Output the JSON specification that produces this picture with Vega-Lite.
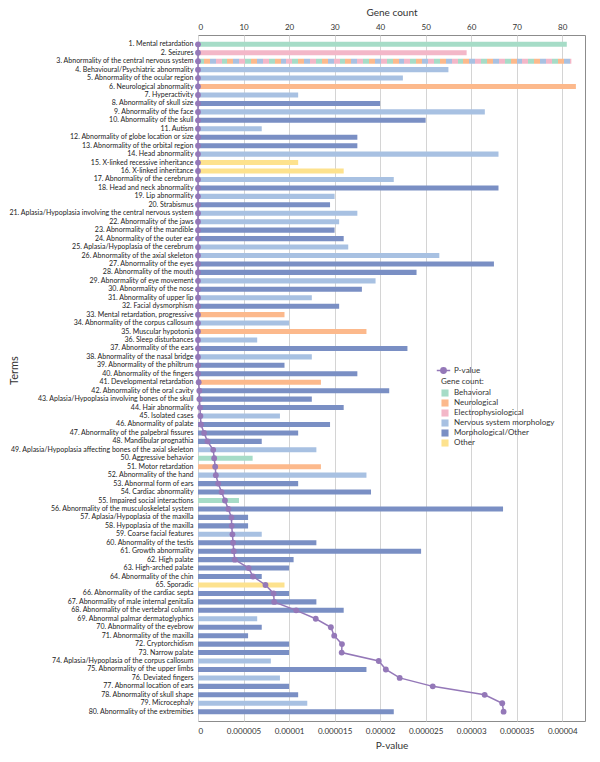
{
  "$schema": "https://vega.github.io/schema/vega-lite/v6.json",
  "width": 387,
  "height": 686,
  "autosize": {"type": "none"},
  "padding": {"left": 198, "top": 35, "right": 15, "bottom": 41},
  "config": {
    "font": "Lato",
    "view": {"stroke": "#8c8c8c", "strokeWidth": 1},
    "axis": {"labelColor": "#333333", "titleColor": "#333333", "titleFontWeight": "normal"},
    "legend": {"labelColor": "#333333", "titleColor": "#333333"}
  },
  "data": {
    "values": [
      {"rank": 1, "term": "1. Mental retardation", "category": "Behavioral", "genes": 81, "p": 1e-40},
      {"rank": 2, "term": "2. Seizures", "category": "Electrophysiological", "genes": 59, "p": 2e-38},
      {"rank": 3, "term": "3. Abnormality of the central nervous system", "category": "Multiple", "genes": 82, "p": 5e-36},
      {"rank": 4, "term": "4. Behavioural/Psychiatric abnormality", "category": "Nervous system morphology", "genes": 55, "p": 1e-33},
      {"rank": 5, "term": "5. Abnormality of the ocular region", "category": "Nervous system morphology", "genes": 45, "p": 3e-31},
      {"rank": 6, "term": "6. Neurological abnormality", "category": "Neurological", "genes": 83, "p": 8e-30},
      {"rank": 7, "term": "7. Hyperactivity", "category": "Nervous system morphology", "genes": 22, "p": 2e-28},
      {"rank": 8, "term": "8. Abnormality of skull size", "category": "Morphological/Other", "genes": 40, "p": 6e-27},
      {"rank": 9, "term": "9. Abnormality of the face", "category": "Nervous system morphology", "genes": 63, "p": 1e-25},
      {"rank": 10, "term": "10. Abnormality of the skull", "category": "Morphological/Other", "genes": 50, "p": 4e-24},
      {"rank": 11, "term": "11. Autism", "category": "Nervous system morphology", "genes": 14, "p": 9e-23},
      {"rank": 12, "term": "12. Abnormality of globe location or size", "category": "Morphological/Other", "genes": 35, "p": 2e-21},
      {"rank": 13, "term": "13. Abnormality of the orbital region", "category": "Morphological/Other", "genes": 35, "p": 5e-21},
      {"rank": 14, "term": "14. Head abnormality", "category": "Nervous system morphology", "genes": 66, "p": 1e-20},
      {"rank": 15, "term": "15. X-linked recessive inheritance", "category": "Other", "genes": 22, "p": 4e-20},
      {"rank": 16, "term": "16. X-linked inheritance", "category": "Other", "genes": 32, "p": 9e-20},
      {"rank": 17, "term": "17. Abnormality of the cerebrum", "category": "Nervous system morphology", "genes": 43, "p": 3e-19},
      {"rank": 18, "term": "18. Head and neck abnormality", "category": "Morphological/Other", "genes": 66, "p": 8e-19},
      {"rank": 19, "term": "19. Lip abnormality", "category": "Nervous system morphology", "genes": 30, "p": 2e-18},
      {"rank": 20, "term": "20. Strabismus", "category": "Morphological/Other", "genes": 29, "p": 6e-18},
      {"rank": 21, "term": "21. Aplasia/Hypoplasia involving the central nervous system", "category": "Nervous system morphology", "genes": 35, "p": 1e-17},
      {"rank": 22, "term": "22. Abnormality of the jaws", "category": "Nervous system morphology", "genes": 31, "p": 4e-17},
      {"rank": 23, "term": "23. Abnormality of the mandible", "category": "Morphological/Other", "genes": 30, "p": 9e-17},
      {"rank": 24, "term": "24. Abnormality of the outer ear", "category": "Morphological/Other", "genes": 32, "p": 3e-16},
      {"rank": 25, "term": "25. Aplasia/Hypoplasia of the cerebrum", "category": "Nervous system morphology", "genes": 33, "p": 7e-16},
      {"rank": 26, "term": "26. Abnormality of the axial skeleton", "category": "Nervous system morphology", "genes": 53, "p": 2e-15},
      {"rank": 27, "term": "27. Abnormality of the eyes", "category": "Morphological/Other", "genes": 65, "p": 5e-15},
      {"rank": 28, "term": "28. Abnormality of the mouth", "category": "Morphological/Other", "genes": 48, "p": 1e-14},
      {"rank": 29, "term": "29. Abnormality of eye movement", "category": "Nervous system morphology", "genes": 39, "p": 3e-14},
      {"rank": 30, "term": "30. Abnormality of the nose", "category": "Morphological/Other", "genes": 36, "p": 8e-14},
      {"rank": 31, "term": "31. Abnormality of upper lip", "category": "Nervous system morphology", "genes": 25, "p": 2e-13},
      {"rank": 32, "term": "32. Facial dysmorphism", "category": "Morphological/Other", "genes": 31, "p": 6e-13},
      {"rank": 33, "term": "33. Mental retardation, progressive", "category": "Neurological", "genes": 19, "p": 1e-12},
      {"rank": 34, "term": "34. Abnormality of the corpus callosum", "category": "Nervous system morphology", "genes": 20, "p": 4e-12},
      {"rank": 35, "term": "35. Muscular hypotonia", "category": "Neurological", "genes": 37, "p": 1e-11},
      {"rank": 36, "term": "36. Sleep disturbances", "category": "Nervous system morphology", "genes": 13, "p": 3e-11},
      {"rank": 37, "term": "37. Abnormality of the ears", "category": "Morphological/Other", "genes": 46, "p": 9e-11},
      {"rank": 38, "term": "38. Abnormality of the nasal bridge", "category": "Nervous system morphology", "genes": 25, "p": 3e-10},
      {"rank": 39, "term": "39. Abnormality of the philtrum", "category": "Morphological/Other", "genes": 19, "p": 8e-10},
      {"rank": 40, "term": "40. Abnormality of the fingers", "category": "Morphological/Other", "genes": 35, "p": 2e-9},
      {"rank": 41, "term": "41. Developmental retardation", "category": "Neurological", "genes": 27, "p": 7.4e-8},
      {"rank": 42, "term": "42. Abnormality of the oral cavity", "category": "Morphological/Other", "genes": 42, "p": 1.45e-7},
      {"rank": 43, "term": "43. Aplasia/Hypoplasia involving bones of the skull", "category": "Morphological/Other", "genes": 25, "p": 1.5e-7},
      {"rank": 44, "term": "44. Hair abnormality", "category": "Morphological/Other", "genes": 32, "p": 2.2e-7},
      {"rank": 45, "term": "45. Isolated cases", "category": "Nervous system morphology", "genes": 18, "p": 2.6e-7},
      {"rank": 46, "term": "46. Abnormality of palate", "category": "Morphological/Other", "genes": 29, "p": 3.3e-7},
      {"rank": 47, "term": "47. Abnormality of the palpebral fissures", "category": "Morphological/Other", "genes": 22, "p": 6.7e-7},
      {"rank": 48, "term": "48. Mandibular prognathia", "category": "Morphological/Other", "genes": 14, "p": 1.04e-6},
      {"rank": 49, "term": "49. Aplasia/Hypoplasia affecting bones of the axial skeleton", "category": "Nervous system morphology", "genes": 26, "p": 1.67e-6},
      {"rank": 50, "term": "50. Aggressive behavior", "category": "Behavioral", "genes": 12, "p": 1.78e-6},
      {"rank": 51, "term": "51. Motor retardation", "category": "Neurological", "genes": 27, "p": 1.89e-6},
      {"rank": 52, "term": "52. Abnormality of the hand", "category": "Nervous system morphology", "genes": 37, "p": 1.96e-6},
      {"rank": 53, "term": "53. Abnormal form of ears", "category": "Morphological/Other", "genes": 22, "p": 2.22e-6},
      {"rank": 54, "term": "54. Cardiac abnormality", "category": "Morphological/Other", "genes": 38, "p": 2.59e-6},
      {"rank": 55, "term": "55. Impaired social interactions", "category": "Behavioral", "genes": 9, "p": 2.96e-6},
      {"rank": 56, "term": "56. Abnormality of the musculoskeletal system", "category": "Morphological/Other", "genes": 67, "p": 3.33e-6},
      {"rank": 57, "term": "57. Aplasia/Hypoplasia of the maxilla", "category": "Morphological/Other", "genes": 11, "p": 3.67e-6},
      {"rank": 58, "term": "58. Hypoplasia of the maxilla", "category": "Morphological/Other", "genes": 11, "p": 3.7e-6},
      {"rank": 59, "term": "59. Coarse facial features", "category": "Nervous system morphology", "genes": 14, "p": 3.78e-6},
      {"rank": 60, "term": "60. Abnormality of the testis", "category": "Morphological/Other", "genes": 26, "p": 3.85e-6},
      {"rank": 61, "term": "61. Growth abnormality", "category": "Morphological/Other", "genes": 49, "p": 3.93e-6},
      {"rank": 62, "term": "62. High palate", "category": "Morphological/Other", "genes": 21, "p": 4.04e-6},
      {"rank": 63, "term": "63. High-arched palate", "category": "Morphological/Other", "genes": 20, "p": 5.56e-6},
      {"rank": 64, "term": "64. Abnormality of the chin", "category": "Morphological/Other", "genes": 14, "p": 6.04e-6},
      {"rank": 65, "term": "65. Sporadic", "category": "Other", "genes": 19, "p": 7.41e-6},
      {"rank": 66, "term": "66. Abnormality of the cardiac septa", "category": "Morphological/Other", "genes": 20, "p": 8.3e-6},
      {"rank": 67, "term": "67. Abnormality of male internal genitalia", "category": "Morphological/Other", "genes": 26, "p": 8.37e-6},
      {"rank": 68, "term": "68. Abnormality of the vertebral column", "category": "Morphological/Other", "genes": 32, "p": 1.078e-5},
      {"rank": 69, "term": "69. Abnormal palmar dermatoglyphics", "category": "Nervous system morphology", "genes": 13, "p": 1.293e-5},
      {"rank": 70, "term": "70. Abnormality of the eyebrow", "category": "Morphological/Other", "genes": 14, "p": 1.459e-5},
      {"rank": 71, "term": "71. Abnormality of the maxilla", "category": "Morphological/Other", "genes": 11, "p": 1.496e-5},
      {"rank": 72, "term": "72. Cryptorchidism", "category": "Morphological/Other", "genes": 20, "p": 1.581e-5},
      {"rank": 73, "term": "73. Narrow palate", "category": "Morphological/Other", "genes": 20, "p": 1.578e-5},
      {"rank": 74, "term": "74. Aplasia/Hypoplasia of the corpus callosum", "category": "Nervous system morphology", "genes": 16, "p": 1.985e-5},
      {"rank": 75, "term": "75. Abnormality of the upper limbs", "category": "Morphological/Other", "genes": 37, "p": 2.063e-5},
      {"rank": 76, "term": "76. Deviated fingers", "category": "Nervous system morphology", "genes": 18, "p": 2.215e-5},
      {"rank": 77, "term": "77. Abnormal location of ears", "category": "Morphological/Other", "genes": 20, "p": 2.578e-5},
      {"rank": 78, "term": "78. Abnormality of skull shape", "category": "Morphological/Other", "genes": 22, "p": 3.148e-5},
      {"rank": 79, "term": "79. Microcephaly", "category": "Nervous system morphology", "genes": 24, "p": 3.341e-5},
      {"rank": 80, "term": "80. Abnormality of the extremities", "category": "Morphological/Other", "genes": 43, "p": 3.356e-5}
    ]
  },
  "layer": [
    {
      "mark": {"type": "bar"},
      "encoding": {
        "y": {
          "field": "term", "type": "nominal", "sort": null,
          "scale": {"paddingInner": 0.4, "paddingOuter": 0.8},
          "axis": {"title": "Terms", "titleFontSize": 11, "titleX": -184, "titleY": 335, "titleAngle": -90, "titleAlign": "center", "titleBaseline": "middle", "labelFontSize": 7, "labelColor": "#222222", "labelLimit": 300, "ticks": false, "domain": false, "labelPadding": 5}
        },
        "x": {
          "field": "genes", "type": "quantitative",
          "scale": {"domain": [0, 85], "nice": false},
          "axis": {"orient": "top", "title": "Gene count", "titleFontSize": 10, "titlePadding": 6, "labelFontSize": 8, "values": [0, 10, 20, 30, 40, 50, 60, 70, 80], "ticks": false, "domain": false, "labelPadding": 4, "gridColor": "#d4d4d4", "gridWidth": 1}
        },
        "color": {
          "condition": {
            "test": "datum.category === 'Multiple'",
            "value": {
              "gradient": "linear", "x1": 0, "y1": 0, "x2": 1, "y2": 0,
              "stops": [
                {"offset": 0, "color": "#a6dcc7"}, {"offset": 0.0158, "color": "#a6dcc7"},
                {"offset": 0.0158, "color": "#fcb98c"}, {"offset": 0.0316, "color": "#fcb98c"},
                {"offset": 0.0316, "color": "#a8c1e2"}, {"offset": 0.0474, "color": "#a8c1e2"},
                {"offset": 0.0474, "color": "#f3b7c8"}, {"offset": 0.0632, "color": "#f3b7c8"},
                {"offset": 0.0632, "color": "#a6dcc7"}, {"offset": 0.079, "color": "#a6dcc7"},
                {"offset": 0.079, "color": "#fcb98c"}, {"offset": 0.0948, "color": "#fcb98c"},
                {"offset": 0.0948, "color": "#a8c1e2"}, {"offset": 0.1106, "color": "#a8c1e2"},
                {"offset": 0.1106, "color": "#f3b7c8"}, {"offset": 0.1264, "color": "#f3b7c8"},
                {"offset": 0.1264, "color": "#a6dcc7"}, {"offset": 0.1422, "color": "#a6dcc7"},
                {"offset": 0.1422, "color": "#fcb98c"}, {"offset": 0.158, "color": "#fcb98c"},
                {"offset": 0.158, "color": "#a8c1e2"}, {"offset": 0.1738, "color": "#a8c1e2"},
                {"offset": 0.1738, "color": "#f3b7c8"}, {"offset": 0.1896, "color": "#f3b7c8"},
                {"offset": 0.1896, "color": "#a6dcc7"}, {"offset": 0.2054, "color": "#a6dcc7"},
                {"offset": 0.2054, "color": "#fcb98c"}, {"offset": 0.2212, "color": "#fcb98c"},
                {"offset": 0.2212, "color": "#a8c1e2"}, {"offset": 0.237, "color": "#a8c1e2"},
                {"offset": 0.237, "color": "#f3b7c8"}, {"offset": 0.2528, "color": "#f3b7c8"},
                {"offset": 0.2528, "color": "#a6dcc7"}, {"offset": 0.2686, "color": "#a6dcc7"},
                {"offset": 0.2686, "color": "#fcb98c"}, {"offset": 0.2844, "color": "#fcb98c"},
                {"offset": 0.2844, "color": "#a8c1e2"}, {"offset": 0.3002, "color": "#a8c1e2"},
                {"offset": 0.3002, "color": "#f3b7c8"}, {"offset": 0.316, "color": "#f3b7c8"},
                {"offset": 0.316, "color": "#a6dcc7"}, {"offset": 0.3318, "color": "#a6dcc7"},
                {"offset": 0.3318, "color": "#fcb98c"}, {"offset": 0.3476, "color": "#fcb98c"},
                {"offset": 0.3476, "color": "#a8c1e2"}, {"offset": 0.3634, "color": "#a8c1e2"},
                {"offset": 0.3634, "color": "#f3b7c8"}, {"offset": 0.3792, "color": "#f3b7c8"},
                {"offset": 0.3792, "color": "#a6dcc7"}, {"offset": 0.395, "color": "#a6dcc7"},
                {"offset": 0.395, "color": "#fcb98c"}, {"offset": 0.4108, "color": "#fcb98c"},
                {"offset": 0.4108, "color": "#a8c1e2"}, {"offset": 0.4266, "color": "#a8c1e2"},
                {"offset": 0.4266, "color": "#f3b7c8"}, {"offset": 0.4424, "color": "#f3b7c8"},
                {"offset": 0.4424, "color": "#a6dcc7"}, {"offset": 0.4582, "color": "#a6dcc7"},
                {"offset": 0.4582, "color": "#fcb98c"}, {"offset": 0.474, "color": "#fcb98c"},
                {"offset": 0.474, "color": "#a8c1e2"}, {"offset": 0.4898, "color": "#a8c1e2"},
                {"offset": 0.4898, "color": "#f3b7c8"}, {"offset": 0.5056, "color": "#f3b7c8"},
                {"offset": 0.5056, "color": "#a6dcc7"}, {"offset": 0.5214, "color": "#a6dcc7"},
                {"offset": 0.5214, "color": "#fcb98c"}, {"offset": 0.5372, "color": "#fcb98c"},
                {"offset": 0.5372, "color": "#a8c1e2"}, {"offset": 0.553, "color": "#a8c1e2"},
                {"offset": 0.553, "color": "#f3b7c8"}, {"offset": 0.5688, "color": "#f3b7c8"},
                {"offset": 0.5688, "color": "#a6dcc7"}, {"offset": 0.5846, "color": "#a6dcc7"},
                {"offset": 0.5846, "color": "#fcb98c"}, {"offset": 0.6004, "color": "#fcb98c"},
                {"offset": 0.6004, "color": "#a8c1e2"}, {"offset": 0.6162, "color": "#a8c1e2"},
                {"offset": 0.6162, "color": "#f3b7c8"}, {"offset": 0.632, "color": "#f3b7c8"},
                {"offset": 0.632, "color": "#a6dcc7"}, {"offset": 0.6478, "color": "#a6dcc7"},
                {"offset": 0.6478, "color": "#fcb98c"}, {"offset": 0.6636, "color": "#fcb98c"},
                {"offset": 0.6636, "color": "#a8c1e2"}, {"offset": 0.6794, "color": "#a8c1e2"},
                {"offset": 0.6794, "color": "#f3b7c8"}, {"offset": 0.6952, "color": "#f3b7c8"},
                {"offset": 0.6952, "color": "#a6dcc7"}, {"offset": 0.711, "color": "#a6dcc7"},
                {"offset": 0.711, "color": "#fcb98c"}, {"offset": 0.7268, "color": "#fcb98c"},
                {"offset": 0.7268, "color": "#a8c1e2"}, {"offset": 0.7426, "color": "#a8c1e2"},
                {"offset": 0.7426, "color": "#f3b7c8"}, {"offset": 0.7584, "color": "#f3b7c8"},
                {"offset": 0.7584, "color": "#a6dcc7"}, {"offset": 0.7742, "color": "#a6dcc7"},
                {"offset": 0.7742, "color": "#fcb98c"}, {"offset": 0.79, "color": "#fcb98c"},
                {"offset": 0.79, "color": "#a8c1e2"}, {"offset": 0.8058, "color": "#a8c1e2"},
                {"offset": 0.8058, "color": "#f3b7c8"}, {"offset": 0.8216, "color": "#f3b7c8"},
                {"offset": 0.8216, "color": "#a6dcc7"}, {"offset": 0.8374, "color": "#a6dcc7"},
                {"offset": 0.8374, "color": "#fcb98c"}, {"offset": 0.8532, "color": "#fcb98c"},
                {"offset": 0.8532, "color": "#a8c1e2"}, {"offset": 0.869, "color": "#a8c1e2"},
                {"offset": 0.869, "color": "#f3b7c8"}, {"offset": 0.8848, "color": "#f3b7c8"},
                {"offset": 0.8848, "color": "#a6dcc7"}, {"offset": 0.9006, "color": "#a6dcc7"},
                {"offset": 0.9006, "color": "#fcb98c"}, {"offset": 0.9164, "color": "#fcb98c"},
                {"offset": 0.9164, "color": "#a8c1e2"}, {"offset": 0.9322, "color": "#a8c1e2"},
                {"offset": 0.9322, "color": "#f3b7c8"}, {"offset": 0.948, "color": "#f3b7c8"},
                {"offset": 0.948, "color": "#a6dcc7"}, {"offset": 0.9638, "color": "#a6dcc7"},
                {"offset": 0.9638, "color": "#fcb98c"}, {"offset": 0.9796, "color": "#fcb98c"},
                {"offset": 0.9796, "color": "#a8c1e2"}, {"offset": 0.9954, "color": "#a8c1e2"},
                {"offset": 0.9954, "color": "#f3b7c8"}, {"offset": 1, "color": "#f3b7c8"}
              ]
            }
          },
          "field": "category", "type": "nominal",
          "scale": {
            "domain": ["Behavioral", "Neurological", "Electrophysiological", "Nervous system morphology", "Morphological/Other", "Other"],
            "range": ["#a6dcc7", "#fcb98c", "#f3b7c8", "#a8c1e2", "#7a8fc4", "#fde28e"]
          },
          "legend": {
            "orient": "none", "legendX": 243, "legendY": 343,
            "title": "Gene count:", "titleFontSize": 8, "titleFontWeight": "normal", "titlePadding": 3,
            "labelFontSize": 8, "symbolType": "square", "symbolSize": 50, "symbolStrokeWidth": 0,
            "rowPadding": 2, "labelOffset": 5,
            "values": ["Behavioral", "Neurological", "Electrophysiological", "Nervous system morphology", "Morphological/Other", "Other"]
          }
        }
      }
    },
    {
      "mark": {"type": "line", "strokeWidth": 1.5, "point": {"filled": true, "size": 34}},
      "encoding": {
        "y": {"field": "term", "type": "nominal", "sort": null},
        "x": {
          "field": "p", "type": "quantitative",
          "scale": {"domain": [0, 0.0000425], "nice": false},
          "axis": {"orient": "bottom", "title": "P-value", "titleFontSize": 10, "titlePadding": 5, "labelFontSize": 8, "format": ".6~f", "values": [0, 0.000005, 0.00001, 0.000015, 0.00002, 0.000025, 0.00003, 0.000035, 0.00004], "grid": false, "ticks": false, "domain": false, "labelPadding": 6}
        },
        "order": {"field": "rank", "type": "quantitative"},
        "color": {
          "datum": "P-value",
          "scale": {"range": ["#9478b8"]},
          "legend": {
            "orient": "none", "legendX": 238, "legendY": 328, "title": null,
            "labelFontSize": 8, "labelOffset": 3,
            "symbolType": "M-1,0H1M-0.4,0A0.4,0.4 0 1,0 0.4,0A0.4,0.4 0 1,0 -0.4,0Z",
            "symbolSize": 180, "symbolStrokeWidth": 1.5, "symbolFillColor": "#9478b8", "symbolStrokeColor": "#9478b8"
          }
        }
      }
    }
  ],
  "resolve": {"scale": {"x": "independent", "color": "independent"}, "axis": {"x": "independent"}}
}
